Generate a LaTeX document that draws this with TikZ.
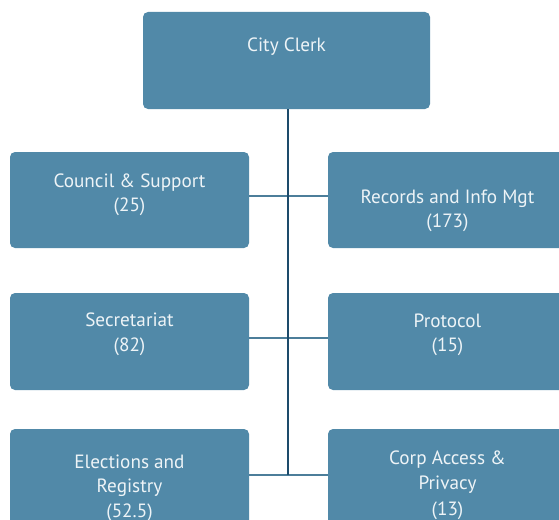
\documentclass[tikz,border=0pt]{standalone}
\usepackage{fontspec}
\setmainfont{PT Sans}
\usetikzlibrary{calc}

\definecolor{unitblue}{HTML}{5189A8}
\definecolor{unittext}{HTML}{EEF4F7}
\definecolor{spine}{HTML}{1D4B6B}
\definecolor{branch}{HTML}{4C7E9A}

\tikzset{
    unit/.style={fill=unitblue, rounded corners=5pt, inner sep=0pt, outer sep=0pt},
    unitlabel/.style={text=unittext, align=center, anchor=base, inner sep=0pt,
        font=\fontsize{19.2}{24.5}\selectfont},
    trunk/.style={draw=spine, line width=1.2pt},
    limb/.style={draw=branch, line width=1.2pt}
}

\begin{document}
\begin{tikzpicture}[x=1pt, y=-1pt]
    \useasboundingbox (0,0) rectangle (559,519);
    \clip (0,0) rectangle (559,519);

    % boxes
    \node[unit, minimum width=287pt, minimum height=97pt] (clerk) at (286.5,60.5) {};
    \node[unit, minimum width=239pt, minimum height=96pt] (council) at (129.5,200) {};
    \node[unit, minimum width=239pt, minimum height=96pt] (records) at (447.5,200) {};
    \node[unit, minimum width=239pt, minimum height=97pt] (secretariat) at (129.5,341.5) {};
    \node[unit, minimum width=239pt, minimum height=97pt] (protocol) at (447.5,341.5) {};
    \node[unit, minimum width=239pt, minimum height=97pt] (elections) at (129.5,477.5) {};
    \node[unit, minimum width=239pt, minimum height=97pt] (corp) at (447.5,477.5) {};

    % labels, baseline of the last line below the top edge
    \node[unitlabel] (clerk-t) at ($(clerk.north)+(0,40)$) {City Clerk};
    \node[unitlabel] (council-t) at ($(council.north)+(0,59.5)$) {Council \& Support\\(25)};
    \node[unitlabel] (records-t) at ($(records.north)+(0,75.5)$) {Records and Info Mgt\\(173)};
    \node[unitlabel] (secretariat-t) at ($(secretariat.north)+(0,58)$) {Secretariat\\(82)};
    \node[unitlabel] (protocol-t) at ($(protocol.north)+(0,58.5)$) {Protocol\\(15)};
    \node[unitlabel] (elections-t) at ($(elections.north)+(0,88)$) {Elections and\\Registry\\(52.5)};
    \node[unitlabel, font=\fontsize{19.2}{25.5}\selectfont] (corp-t)
        at ($(corp.north)+(0,86)$) {Corp Access \&\\Privacy\\(13)};

    % connectors
    \coordinate (hub) at (288,475);
    \draw[limb] ([yshift=4pt]council.east) -- ([yshift=4pt]records.west);
    \draw[limb] ([yshift=3.5pt]secretariat.east) -- ([yshift=3.5pt]protocol.west);
    \draw[limb] ([yshift=2.5pt]elections.east) -- ([yshift=2.5pt]corp.west);
    \draw[trunk] (clerk.south -| hub) -- (hub);
\end{tikzpicture}
\end{document}
